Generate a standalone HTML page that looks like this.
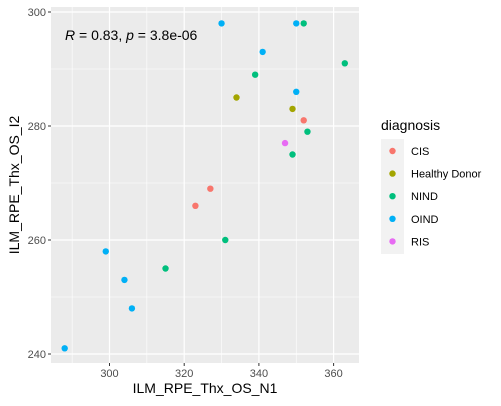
<!DOCTYPE html>
<html><head><meta charset="utf-8"><style>body{margin:0;background:#fff}svg{display:block;font-family:"Liberation Sans",Arial,sans-serif}</style></head>
<body>
<svg id="c" width="501" height="406"></svg>
<script>
const xVals=[288,299,304,306,330,341,350,350, 315,331,339,349,352,353,363, 323,327,352, 334,349, 347];
const yVals=[241,258,253,248,298,293,286,298, 255,260,289,275,298,279,291, 266,269,281, 285,283, 277];
const groups=["OIND","OIND","OIND","OIND","OIND","OIND","OIND","OIND","NIND","NIND","NIND","NIND","NIND","NIND","NIND","CIS","CIS","CIS","Healthy Donor","Healthy Donor","RIS"];
const categories=["CIS","Healthy Donor","NIND","OIND","RIS"];
const colors=["#F8766D","#A3A500","#00BF7D","#00B0F6","#E76BF3"];
const xTicks=[300,320,340,360];
const yTicks=[240,260,280,300];
const ns="http://www.w3.org/2000/svg";
const svg=document.getElementById('c');
const L=51,R=359,T=7,B=363;
const sx=v=>109.5+(v-300)*3.735;
const sy=v=>12+(300-v)*5.7;
function mk(t,a,p){const e=document.createElementNS(ns,t);for(const k in a)e.setAttribute(k,a[k]);(p||svg).appendChild(e);return e;}
const panel=mk('rect',{x:L,y:T,width:R-L,height:B-T,fill:'#EBEBEB'});


for(let i=0;i<xTicks.length;i++){const m=xTicks[i]-10;const g=mk('line',{x1:sx(m),x2:sx(m),y1:T,y2:B,stroke:'#fff','stroke-width':0.6});}
for(let i=0;i<yTicks.length;i++){const m=yTicks[i]+10;if(sy(m)<T)continue;const g=mk('line',{x1:L,x2:R,y1:sy(m),y2:sy(m),stroke:'#fff','stroke-width':0.6});}
xTicks.forEach(v=>{const g=mk('line',{x1:sx(v),x2:sx(v),y1:T,y2:B,stroke:'#fff','stroke-width':1.2});
const t=mk('line',{x1:sx(v),x2:sx(v),y1:B,y2:B+3,stroke:'#333','stroke-width':1});
const l=mk('text',{x:sx(v),y:B+14,'text-anchor':'middle','font-size':11,fill:'#4D4D4D'});l.textContent=v;});
yTicks.forEach(v=>{const g=mk('line',{x1:L,x2:R,y1:sy(v),y2:sy(v),stroke:'#fff','stroke-width':1.2});
const t=mk('line',{x1:L-3,x2:L,y1:sy(v),y2:sy(v),stroke:'#333','stroke-width':1});
const l=mk('text',{x:L-5,y:sy(v)+4,'text-anchor':'end','font-size':11,fill:'#4D4D4D'});l.textContent=v;});
for(let i=0;i<xVals.length;i++){const c=mk('circle',{cx:sx(xVals[i]),cy:sy(yVals[i]),r:3.2,fill:colors[categories.indexOf(groups[i])]});}
const ann=mk('text',{x:65,y:40,'font-size':14,fill:'#000'});ann.innerHTML='<tspan font-style="italic">R</tspan> = 0.83, <tspan font-style="italic">p</tspan> = 3.8e-06';

const xt=mk('text',{x:(L+R)/2,y:393,'text-anchor':'middle','font-size':14,fill:'#000'});xt.textContent='ILM_RPE_Thx_OS_N1';
const yt=mk('text',{x:0,y:0,'text-anchor':'middle','font-size':14,fill:'#000',transform:'translate(19,'+((T+B)/2)+') rotate(-90)'});yt.textContent='ILM_RPE_Thx_OS_I2';
const lt=mk('text',{x:381,y:130,'font-size':14,fill:'#000'});lt.textContent='diagnosis';
const lb=mk('rect',{x:381,y:139,width:23,height:115,fill:'#F2F2F2'});
categories.forEach((c,i)=>{const y=151+i*22.6;const d=mk('circle',{cx:392.5,cy:y,r:3.2,fill:colors[i]});
const t=mk('text',{x:411,y:y+4,'font-size':11,fill:'#000'});t.textContent=c;});
</script>
</body></html>
